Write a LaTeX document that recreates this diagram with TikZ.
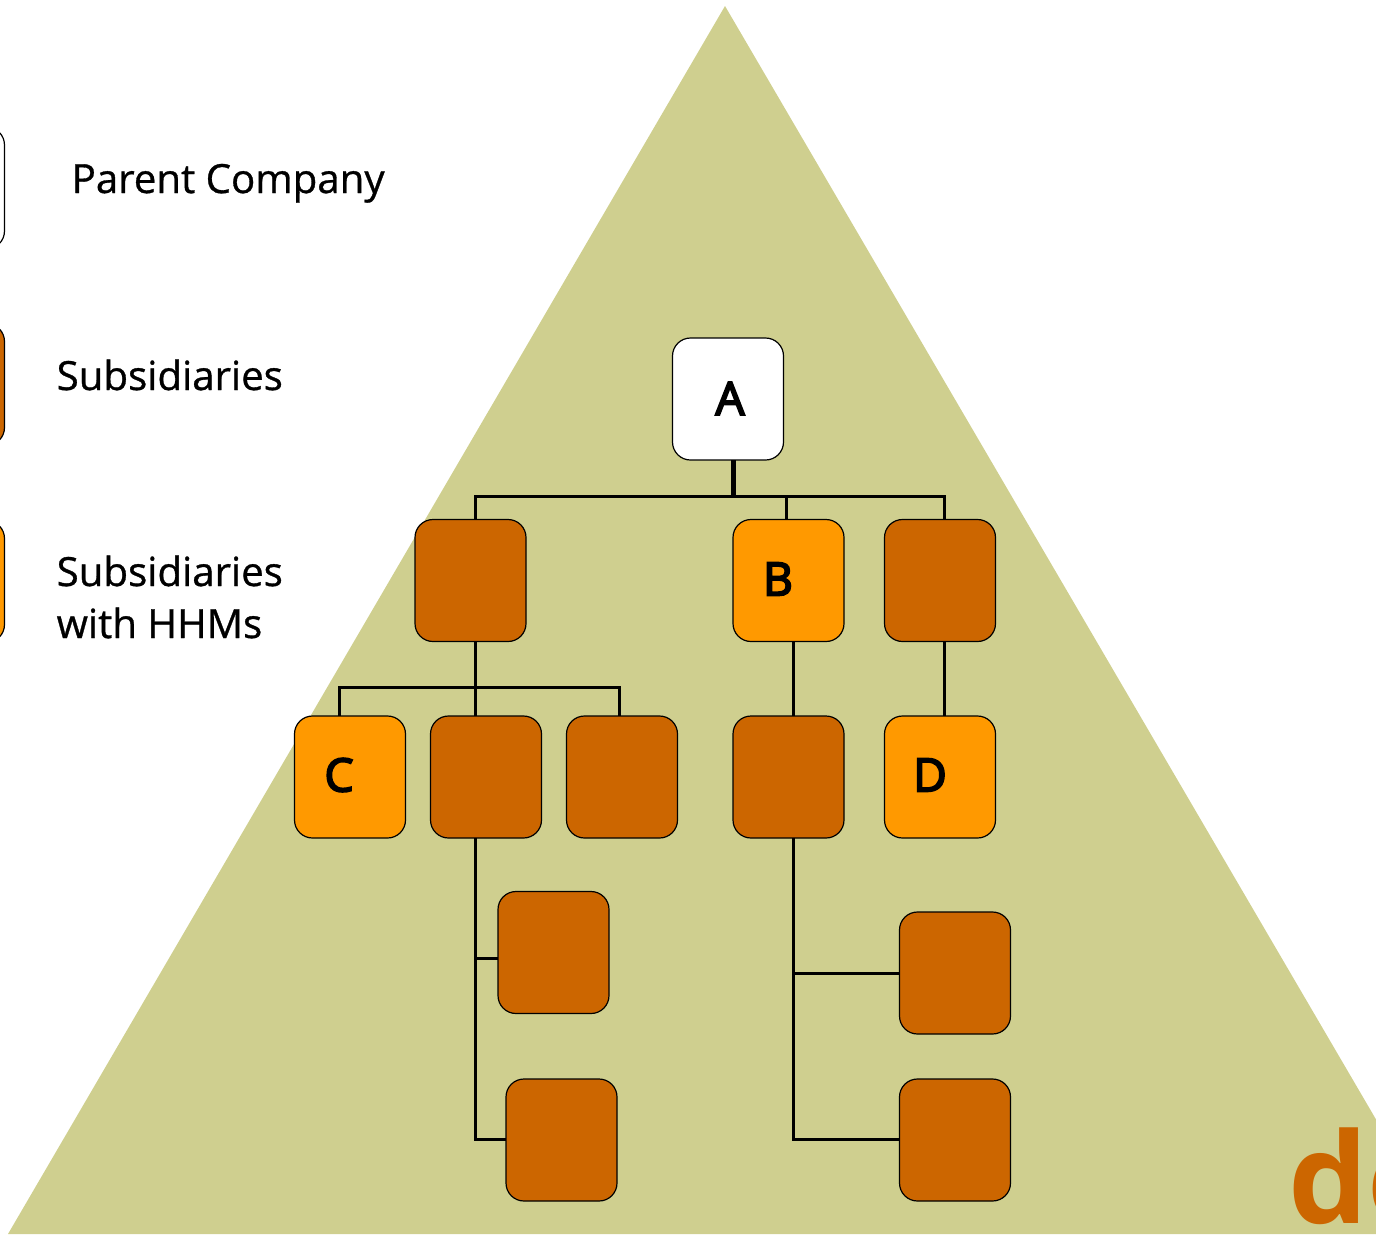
\documentclass[tikz,border=0pt]{standalone}
\usepackage{fontspec}
\setmainfont{Open Sans}
\newfontfamily\letterfont[FakeBold=4]{Open Sans}
\newfontfamily\legendfont[FakeBold=0.8]{Open Sans}
\definecolor{tri}{HTML}{CFCF8F}
\definecolor{brown}{HTML}{CC6600}
\definecolor{amber}{HTML}{FF9900}
\tikzset{
 x=1pt,y=-1pt,
 box/.style={draw=black,line width=1.2pt,rounded corners=18pt,minimum width=111pt,minimum height=122pt,inner sep=0pt,outer sep=0pt},
 white box/.style={box,fill=white},
 brown box/.style={box,fill=brown},
 amber box/.style={box,fill=amber},
 letter/.style={font=\letterfont\fontsize{46}{46}\selectfont,inner sep=0pt,anchor=center},
 legend/.style={font=\legendfont\fontsize{40.2}{52}\selectfont,inner sep=0pt,anchor=base west,align=left,text=black},
 wire/.style={draw=black,line width=3pt},
 thickwire/.style={draw=black,line width=5pt},
}
\begin{document}
\begin{tikzpicture}
\useasboundingbox (0,0) rectangle (1376,1235);
\clip (0,0) rectangle (1376,1235);
\fill[tri] (725,6) -- (1443,1234) -- (8,1234) -- cycle;
\node[font=\fontsize{126}{126}\selectfont\bfseries,text=brown,anchor=base west,inner sep=0pt] (logo) at (1288,1223) {de};

% legend
\node[white box] (la) at (-51,188) {};
\node[brown box] (lb) at (-51,384.5) {};
\node[amber box] (lc) at (-51,581.5) {};
\node[legend] (ta) at (71.5,193) {Parent Company};
\node[legend] (tb) at (56.5,390) {Subsidiaries};
\node[legend] (tc) at (56.5,638) {Subsidiaries\\with HHMs};

% junctions
\coordinate (busA) at (733.5,496);
\coordinate (busAl) at (475.5,496);
\coordinate (busAm) at (786.5,496);
\coordinate (busAr) at (944.5,496);
\coordinate (busB) at (475.5,687);
\coordinate (busBl) at (339.5,687);
\coordinate (busBr) at (619.5,687);
\coordinate (j1) at (475.5,958);
\coordinate (j2) at (475.5,1139);
\coordinate (j3) at (793.5,973);
\coordinate (j4) at (793.5,1139);

% boxes
\node[white box] (A) at (728,399) {};
\node[brown box] (p1) at (470.5,580.5) {};
\node[amber box] (B) at (788.5,580.5) {};
\node[brown box] (p3) at (940,580.5) {};
\node[amber box] (C) at (350,777) {};
\node[brown box] (c2) at (486,777) {};
\node[brown box] (c3) at (622,777) {};
\node[brown box] (c4) at (788.5,777) {};
\node[amber box] (D) at (940,777) {};
\node[brown box] (e1) at (553.5,952.5) {};
\node[brown box] (e2) at (561.5,1140) {};
\node[brown box] (f1) at (955,973) {};
\node[brown box] (f2) at (955,1140) {};

% connectors
\draw[thickwire] (A.south -| busA) -- (busA);
\draw[wire] (p1.north -| busAl) |- (busA) -| (p3.north -| busAr);
\draw[wire] (busAm) -- (B.north -| busAm);
\draw[wire] (p1.south -| busB) -- (c2.north -| busB);
\draw[wire] (C.north -| busBl) |- (busB) -| (c3.north -| busBr);
\draw[wire] (B.south -| j3) -- (c4.north -| j3);
\draw[wire] (p3.south -| busAr) -- (D.north -| busAr);
\draw[wire] (c2.south -| j2) |- (e2.west |- j2);
\draw[wire] (j1) -- (e1.west |- j1);
\draw[wire] (c4.south -| j4) |- (f2.west |- j4);
\draw[wire] (j3) -- (f1.west |- j3);

% letters
\node[letter] (tA) at (730,398.5) {A};
\node[letter] (tB) at (778,579) {B};
\node[letter] (tC) at (339,775) {C};
\node[letter] (tD) at (930,775) {D};
\end{tikzpicture}
\end{document}
